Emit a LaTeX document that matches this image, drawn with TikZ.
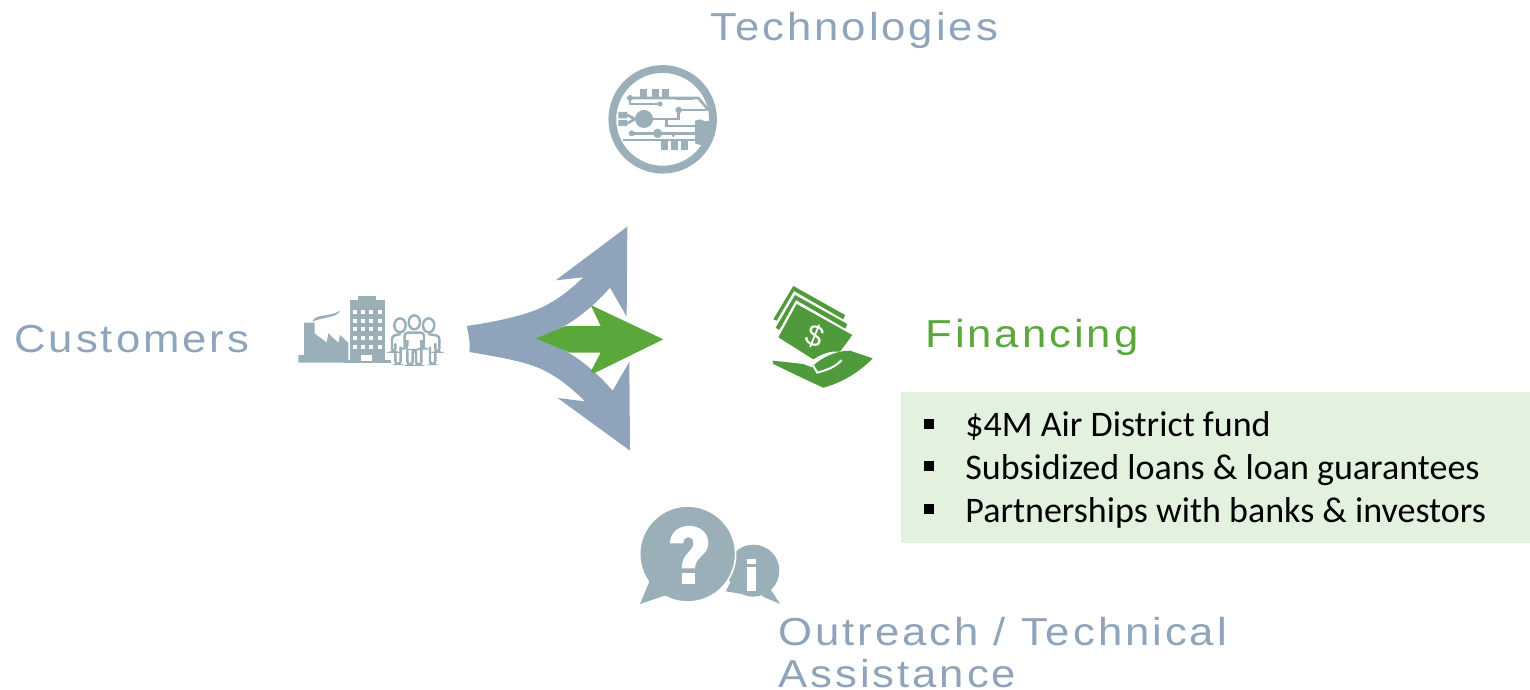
\documentclass[tikz,border=0pt]{standalone}
\usepackage{fontspec}
\setmainfont{Carlito}
\newfontfamily\headfont[LetterSpace=7.6,FakeStretch=1.12]{Liberation Sans}
\newfontfamily\dollarfont{Liberation Sans}
\definecolor{slate}{HTML}{8FA4BB}
\definecolor{icongray}{HTML}{9BAFB9}
\definecolor{leaf}{HTML}{5AA83C}
\definecolor{moneygreen}{HTML}{4F9B3C}
\definecolor{boxgreen}{HTML}{E3F2DF}
\tikzset{
  headtext/.style={font=\headfont\fontsize{19.5}{22}\selectfont,anchor=base west,inner sep=0pt,align=left},
  bullettext/.style={font=\fontsize{18}{20}\selectfont,anchor=base west,inner sep=0pt,text=black},
  bulletmark/.style={fill=black,draw=none,minimum size=5.2pt,inner sep=0pt},
  icl/.style={draw=icongray,line width=1.3pt},
  ppl/.style={draw=icongray,line width=1.2pt,rounded corners=1.5pt},
}
\begin{document}
\begin{tikzpicture}[x=0.5pt,y=-0.5pt]
\useasboundingbox (0,0) rectangle (1530,690);
% texts
\node[headtext,text=slate] (tech) at (710,41) {Technologies};
\node[headtext,text=slate] (cust) at (14,352) {Customers};
\node[headtext,text=leaf] (fin) at (925,347) {Financing};
\node[headtext,text=slate] (out1) at (778,645) {Outreach / Technical};
\node[headtext,text=slate] (out2) at (778,687) {Assistance};
% box
\node[fill=boxgreen,draw=none,inner sep=0pt,minimum width=314.5pt,minimum height=75.5pt,anchor=north west] (box) at (901,392) {};
\node[bulletmark] (b1) at (929,424) {};
\node[bulletmark] (b2) at (929,466) {};
\node[bulletmark] (b3) at (929,509) {};
\node[bullettext] (t1) at (965,436) {\$4M Air District fund};
\node[bullettext] (t2) at (965,479) {Subsidized loans \& loan guarantees};
\node[bullettext] (t3) at (965,522) {Partnerships with banks \& investors};
% three-way arrow
\begin{scope}[shift={(460,220)},scale=1/3]
\fill[slate] (20,318) .. controls (110,305) and (200,285) .. (250,260)
  .. controls (300,235) and (335,205) .. (370,172) -- (287,181) -- (502,20) -- (500,290) -- (450,203)
  .. controls (400,260) and (320,330) .. (228,355)
  .. controls (320,380) and (400,445) .. (458,512) -- (508,425) -- (510,692) -- (293,534) -- (375,544)
  .. controls (335,505) and (300,475) .. (250,450)
  .. controls (200,425) and (110,410) .. (28,396)
  .. controls (32,370) and (25,340) .. (20,318) -- cycle;
\fill[leaf] (610,358) -- (392,255) -- (422,318) -- (318,318) -- (228,355) -- (330,398) -- (422,398) -- (392,455) -- (402,460) -- cycle;
\end{scope}
% technologies icon
\begin{scope}[shift={(590,50)},scale=1/3]
\draw[icongray,line width=3.9pt] (218,208) circle (151);
\foreach \xx in {150,185,215} \fill[icongray] (\xx,116) rectangle +(22,30);
\foreach \xx in {213,244,274} \fill[icongray] (\xx,272) rectangle +(21,27);
\draw[icl] (120,144) -- (120,162) -- (210,162);
\draw[icl] (120,144) -- (325,144) -- (355,180);
\fill[icongray] (258,140) rectangle (310,150);
\fill[icongray] (120,144) circle (9) (210,162) circle (8) (162,207) circle (27) (266,180) circle (10) (125,250) circle (9) (203,250) circle (14) (250,257) circle (5);
\fill[icongray] (85,186) rectangle (112,205) (85,210) rectangle (112,228);
\draw[icl] (112,195) -- (135,207) -- (112,220);
\draw[icl] (190,207) -- (266,207) -- (266,180);
\draw[icl] (266,180) -- (350,180);
\draw[icl] (230,207) -- (230,228) -- (315,228);
\draw[icl] (125,250) -- (315,250);
\draw[icl] (100,270) -- (315,270);
\fill[icongray] (315,212) -- (330,208) -- (345,214) -- (360,212) -- (362,270) -- (345,282) -- (330,285) -- (315,280) -- cycle;
\end{scope}
% customers icon
\begin{scope}[shift={(280,280)},scale=1/3]
\fill[icongray] (55,248) -- (55,225) -- (72,225) -- (72,128) -- (104,128) -- (104,160) -- (140,188) -- (145,160) -- (175,188) -- (180,165) -- (205,188) -- (205,248) -- cycle;
\fill[icongray] (97,125) .. controls (105,100) and (150,112) .. (180,92) .. controls (170,115) and (130,110) .. (97,125) -- cycle;
\fill[icongray] (188,240) rectangle (332,250);
\fill[icongray] (235,48) rectangle (288,60);
\fill[icongray] (210,60) rectangle (316,242);
\foreach \yy in {90,116,142,168,194} \foreach \xx in {218,243,268,293}
  \fill[white] (\xx,\yy) rectangle +(12,12);
\fill[white] (243,224) rectangle (276,242);
\draw[icongray,line width=1.2pt] (360,136) ellipse (17 and 21);
\draw[icongray,line width=1.2pt] (403,127) ellipse (17 and 21);
\draw[icongray,line width=1.2pt] (446,136) ellipse (17 and 21);
% left figure
\draw[ppl] (362,162) -- (336,168) -- (336,215) -- (346,215) -- (346,190);
\draw[ppl] (346,215) -- (346,252) -- (362,252) -- (362,200);
% right figure
\draw[ppl] (444,162) -- (478,168) -- (478,215) -- (466,215) -- (466,190);
\draw[ppl] (466,215) -- (466,252) -- (450,252) -- (450,200);
% centre figure
\draw[ppl] (374,205) -- (374,158) -- (432,158) -- (432,205) -- (424,205) -- (424,180);
\draw[ppl] (382,180) -- (382,205) -- (374,205);
\draw[ppl] (382,205) -- (382,254) -- (398,254) -- (398,210) -- (408,210) -- (408,254) -- (424,254) -- (424,205);
\end{scope}
% money icon
\begin{scope}[shift={(760,280)},scale=1/3]
\fill[moneygreen] (100,18) -- (255,105) -- (250,118) -- (102,33) -- (50,122) -- (40,118) -- cycle;
\fill[moneygreen] (105,45) -- (262,132) -- (256,146) -- (108,60) -- (58,150) -- (47,143) -- cycle;
\fill[moneygreen] (110,72) -- (277,165) -- (240,215) .. controls (210,212) and (185,222) .. (160,238) -- (55,172) -- cycle;
\node[font=\dollarfont\fontsize{15}{15}\selectfont,text=white,rotate=-22,inner sep=0pt] (dollar) at (165,170) {\$};
\fill[moneygreen] (38,242) -- (130,252) -- (155,262) .. controls (180,235) and (225,212) .. (270,212) -- (338,235) .. controls (295,280) and (240,310) .. (190,323) -- (150,305) -- (40,252) -- cycle;
\draw[white,line width=1pt] (160,258) -- (172,278) .. controls (200,270) and (225,262) .. (245,240);
\end{scope}
% outreach icon
\begin{scope}[shift={(630,500)},scale=1/3]
\fill[icongray] (370,212) circle (78);
\fill[icongray] (420,265) -- (450,312) -- (395,288) -- cycle;
\fill[icongray] (305,240) -- (287,274) -- (335,282) -- cycle;
\filldraw[fill=icongray,draw=white,line width=0.8pt] (173,162) circle (144);
\fill[icongray] (60,240) -- (30,312) -- (110,285) -- cycle;
\fill[white] (120,130) .. controls (120,60) and (235,60) .. (235,130)
  .. controls (235,165) and (195,170) .. (195,205) -- (155,205)
  .. controls (155,160) and (190,155) .. (190,130) .. controls (190,105) and (160,105) .. (160,130) -- cycle;
\fill[white] (155,218) rectangle (195,252);
\fill[white] (352,178) rectangle (378,192);
\fill[white] (352,202) rectangle (378,272);
\end{scope}
\end{tikzpicture}
\end{document}
